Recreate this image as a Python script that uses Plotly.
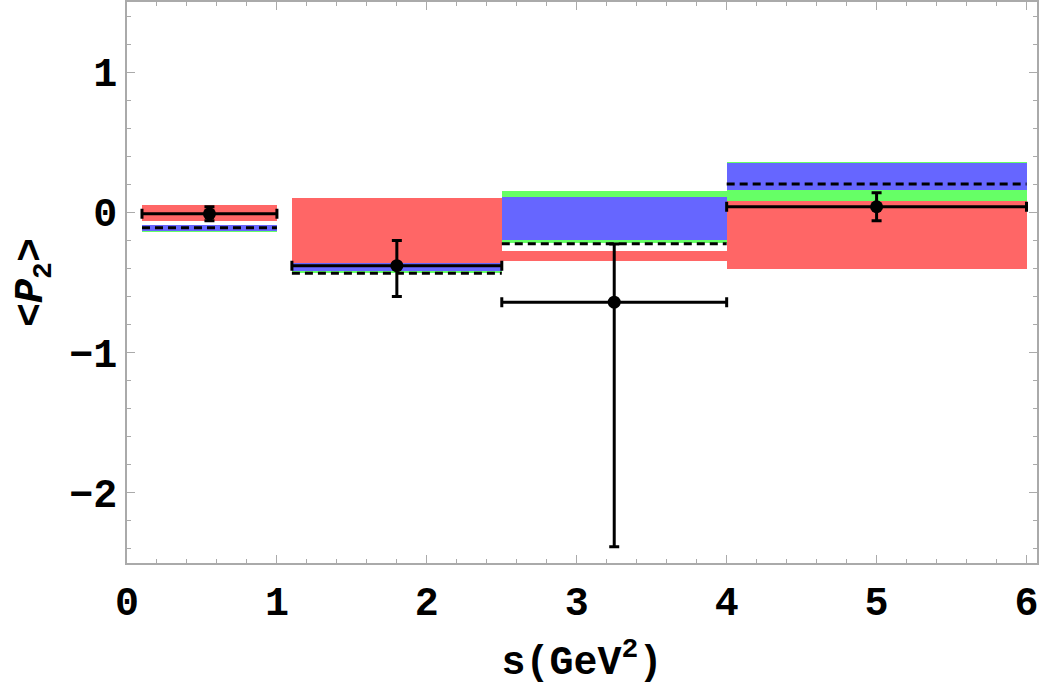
import plotly.graph_objects as go

# bins (s in GeV^2)
bin_lo = [0.1, 1.1, 2.5, 4.0]
bin_hi = [1.0, 2.5, 4.0, 6.0]

# bands
red_lo = [-0.065, -0.36, -0.345, -0.405]
red_hi = [0.05, 0.10, -0.275, 0.08]
green_lo = [-0.14, -0.43, -0.22, 0.08]
green_hi = [-0.09, -0.36, 0.156, 0.36]
blue_lo = [-0.13, -0.42, -0.20, 0.163]
blue_hi = [-0.09, -0.36, 0.113, 0.35]

# dashed central values
dash_val = [-0.11, -0.434, -0.224, 0.203]

# data points
data_x = [0.55, 1.8, 3.25, 5.0]
data_y = [-0.01, -0.38, -0.64, 0.04]
err_plus = [0.05, 0.18, 0.415, 0.10]
err_minus = [0.05, 0.22, 1.745, 0.10]

xticks = [0, 1, 2, 3, 4, 5, 6]
yticks = [-2, -1, 0, 1]
yticktext = ["\u22122", "\u22121", "0", "1"]

RED = "rgb(255,102,102)"
GREEN = "rgb(102,255,102)"
BLUE = "rgb(102,102,255)"

fig = go.Figure()

centers = [(a + b) / 2 for a, b in zip(bin_lo, bin_hi)]
widths = [b - a for a, b in zip(bin_lo, bin_hi)]


def band(lo, hi, color):
    fig.add_trace(go.Bar(
        x=centers, y=[h - l for l, h in zip(lo, hi)], base=lo, width=widths,
        marker=dict(color=color, line=dict(width=0)), showlegend=False,
        hoverinfo="skip"))


band(red_lo, red_hi, RED)
band(green_lo, green_hi, GREEN)
band(blue_lo, blue_hi, BLUE)

# dashed lines
dx, dy = [], []
for a, b, v in zip(bin_lo, bin_hi, dash_val):
    dx += [a, b, None]
    dy += [v, v, None]
fig.add_trace(go.Scatter(x=dx, y=dy, mode="lines",
                         line=dict(color="black", width=3, dash="8px,5px"),
                         showlegend=False, hoverinfo="skip"))

# data with error bars
fig.add_trace(go.Scatter(
    x=data_x, y=data_y, mode="markers",
    marker=dict(color="black", size=13),
    error_y=dict(type="data", array=err_plus, arrayminus=err_minus,
                 color="black", thickness=3, width=5),
    error_x=dict(type="data",
                 array=[b - x for b, x in zip(bin_hi, data_x)],
                 arrayminus=[x - a for a, x in zip(bin_lo, data_x)],
                 color="black", thickness=3, width=5),
    showlegend=False))

FAM = "Liberation Mono, Courier New, monospace"
tfont = dict(size=40, family=FAM, color="black", weight="bold")
frame = "rgb(170,170,170)"

fig.update_layout(
    width=1042, height=690,
    margin=dict(l=127, r=5, t=0, b=127),
    paper_bgcolor="white", plot_bgcolor="white",
    barmode="overlay", bargap=0,
    font=dict(family=FAM, size=40, color="black"),
    xaxis=dict(range=[0, 6.07], tickvals=xticks, ticks="inside", ticklen=8,
               tickcolor=frame, tickwidth=1, showline=True, linecolor=frame,
               linewidth=1.5, mirror="ticks", showgrid=False, zeroline=False,
               minor=dict(dtick=0.2, ticks="inside", ticklen=4, tickcolor=frame,
                          showgrid=False),
               tickfont=tfont, ticklabelstandoff=2,
               title=dict(text="s(GeV<sup>2</sup>)", standoff=20, font=tfont)),
    yaxis=dict(range=[-2.5, 1.5], tickvals=yticks, ticktext=yticktext,
               ticks="inside", ticklen=8,
               tickcolor=frame, tickwidth=1, showline=True, linecolor=frame,
               linewidth=1.5, mirror="ticks", showgrid=False, zeroline=False,
               minor=dict(dtick=0.2, ticks="inside", ticklen=4, tickcolor=frame,
                          showgrid=False),
               tickfont=tfont, ticklabelstandoff=0,
               title=dict(text="&lt;<i>P</i><sub>2</sub>&gt;", standoff=14, font=tfont)),
)

fig.write_html("out.html")
